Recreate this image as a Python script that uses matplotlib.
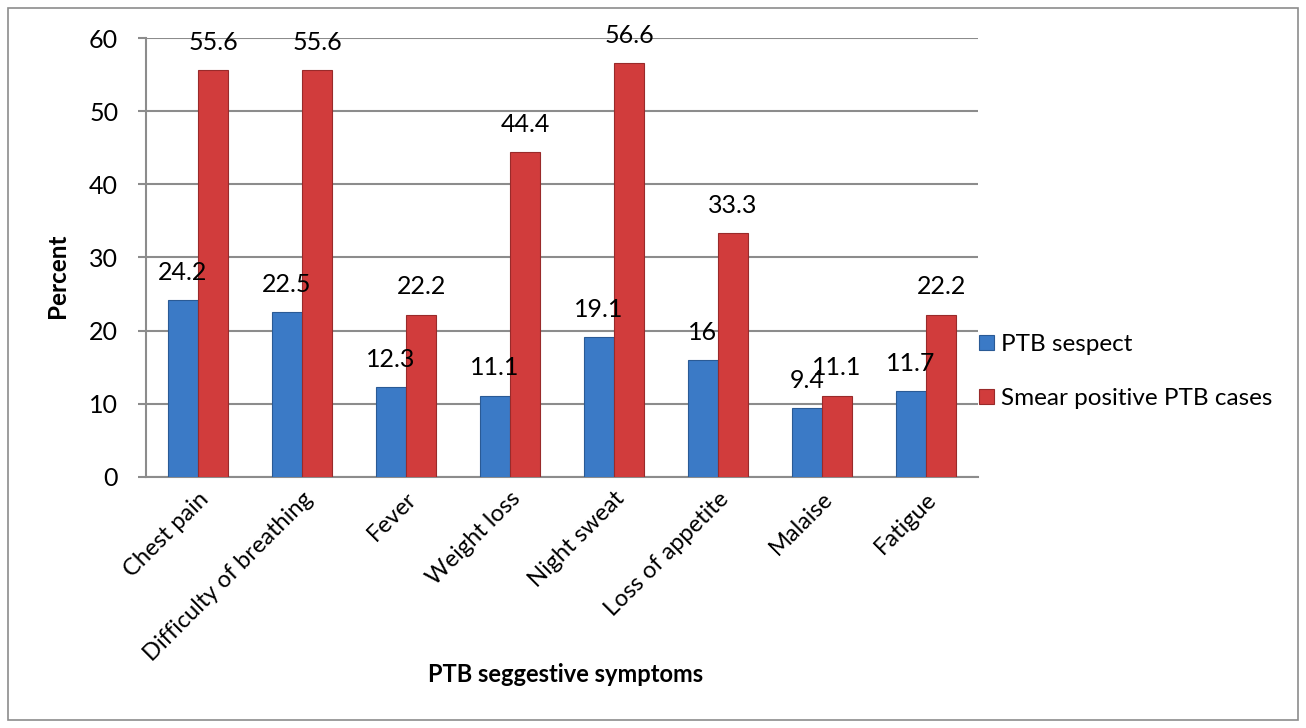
import numpy as np
import matplotlib
matplotlib.use('Agg')
import matplotlib.pyplot as plt
from matplotlib.patches import Rectangle

plt.rcParams['font.family'] = ['Lato', 'DejaVu Sans']

# 数据
symptoms = ['Chest pain', 'Difficulty of breathing', 'Fever', 'Weight loss',
            'Night sweat', 'Loss of appetite', 'Malaise', 'Fatigue']
suspect = [24.2, 22.5, 12.3, 11.1, 19.1, 16, 9.4, 11.7]
smear_pos = [55.6, 55.6, 22.2, 44.4, 56.6, 33.3, 11.1, 22.2]
suspect_labels = ['24.2', '22.5', '12.3', '11.1', '19.1', '16', '9.4', '11.7']
smear_labels = ['55.6', '55.6', '22.2', '44.4', '56.6', '33.3', '11.1', '22.2']

fig = plt.figure(figsize=(13.06, 7.28), dpi=100)
ax = fig.add_axes([0.1118, 0.3448, 0.6371, 0.6030])

# 外框
fig.patches.append(Rectangle((8 / 1306, 8 / 728), 1290 / 1306, 712 / 728,
                             transform=fig.transFigure, fill=False,
                             edgecolor='#8c8c8c', linewidth=1.2))

x = np.arange(len(symptoms))
w = 0.29
b1 = ax.bar(x - w / 2, suspect, w, color='#3B7AC6', edgecolor='#2a5a95',
            linewidth=0.8, label='PTB sespect', zorder=3)
b2 = ax.bar(x + w / 2, smear_pos, w, color='#D13C3C', edgecolor='#992a2a',
            linewidth=0.8, label='Smear positive PTB cases', zorder=3)

for rect, lab in zip(b1, suspect_labels):
    ax.annotate(lab, (rect.get_x() + rect.get_width() / 2, rect.get_height()),
                xytext=(0, 20), textcoords='offset points',
                ha='center', va='center', fontsize=18, zorder=5)
for rect, lab in zip(b2, smear_labels):
    ax.annotate(lab, (rect.get_x() + rect.get_width() / 2, rect.get_height()),
                xytext=(0, 20), textcoords='offset points',
                ha='center', va='center', fontsize=18, zorder=5)

ax.set_xlim(-0.5, len(symptoms) - 0.5)
ax.set_ylim(0, 60)
ax.set_yticks(range(0, 61, 10))
ax.yaxis.grid(True, color='#8c8c8c', linewidth=1.5, zorder=0)
ax.set_xticks(x)
ax.set_xticklabels(symptoms, rotation=45, ha='right', rotation_mode='anchor',
                   fontsize=17)
ax.tick_params(axis='y', labelsize=18, color='#8c8c8c', length=6, width=1.5, pad=14)
ax.tick_params(axis='x', length=0, pad=8)
for s in ['top', 'right']:
    ax.spines[s].set_visible(False)
for s in ['left', 'bottom']:
    ax.spines[s].set_color('#8c8c8c')
    ax.spines[s].set_linewidth(1.5)

ax.set_ylabel('Percent', fontsize=17.5, fontweight='bold', va='center')
ax.yaxis.set_label_coords(-0.106, 0.458)
fig.text(0.433, 0.073, 'PTB seggestive symptoms', fontsize=17,
         fontweight='bold', ha='center', va='center')

ax.legend(loc='center left', bbox_to_anchor=(0.99, 0.24), frameon=False,
          fontsize=17.5, handlelength=0.6, handleheight=0.6, handletextpad=0.3,
          labelspacing=1.35, borderaxespad=0)

plt.savefig('out.png', dpi=100)
